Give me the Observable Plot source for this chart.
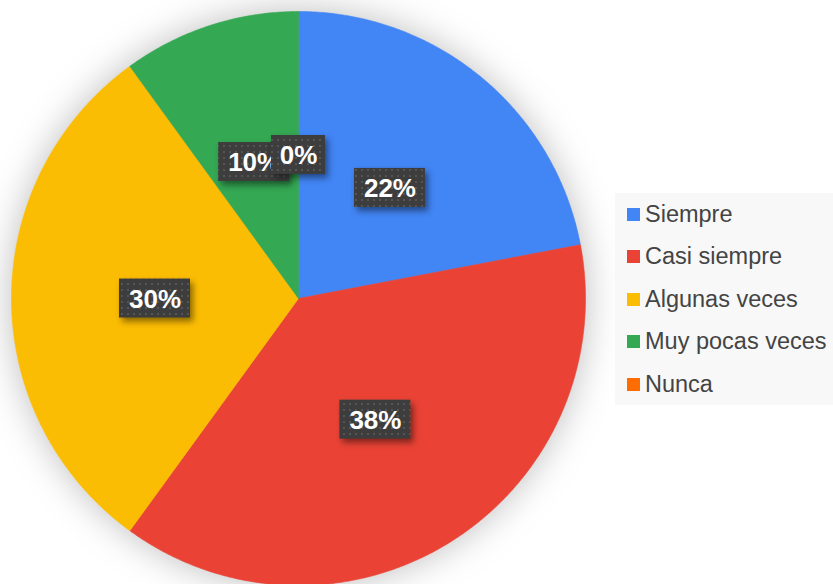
<!DOCTYPE html>
<html>
<head>
<meta charset="utf-8">
<script src="https://cdn.jsdelivr.net/npm/d3@7"></script>
<script src="https://cdn.jsdelivr.net/npm/@observablehq/plot@0.6"></script>
<style>
  body { margin: 0; background: #fff; font-family: "Liberation Sans", Arial, sans-serif; }
  #wrap { position: relative; width: 833px; height: 584px; overflow: hidden; }
  #legend { position: absolute; left: 615px; top: 193px; width: 230px; height: 212px; background: #f8f8f8; box-sizing: border-box; padding-top: 0px; }
  .item { display: flex; align-items: center; height: 42.5px; padding-left: 12px; font-size: 23.5px; color: #444; white-space: nowrap; }
  .sw { width: 13px; height: 13px; margin-right: 5px; flex: none; }
</style>
</head>
<body>
<div id="wrap"></div>
<script>
const categories = ["Siempre", "Casi siempre", "Algunas veces", "Muy pocas veces", "Nunca"];
const values = [22, 38, 30, 10, 0];
const labels = ["22%", "38%", "30%", "10%", "0%"];
const colors = ["#4285F4", "#EA4335", "#FBBC04", "#34A853", "#FF6D01"];

const data = categories.map((c, i) => ({cat: c, value: values[i], label: labels[i]}));
const arcs = d3.pie().sort(null).value(d => d.value).startAngle(0).endAngle(2 * Math.PI)(data);

// polygon points for each non-empty slice (unit circle, angle clockwise from top)
const pts = [];
for (const a of arcs) {
  if (a.data.value <= 0) continue;
  const cat = a.data.cat;
  pts.push({cat, x: 0, y: 0});
  const n = Math.max(2, Math.ceil((a.endAngle - a.startAngle) / (Math.PI / 360)));
  for (let k = 0; k <= n; k++) {
    const t = a.startAngle + (a.endAngle - a.startAngle) * k / n;
    pts.push({cat, x: Math.sin(t), y: Math.cos(t)});
  }
  pts.push({cat, x: 0, y: 0});
}

// label positions at half radius
const R = 287; // pixel radius, for converting box size into data units
const lab = arcs.map(a => {
  const m = (a.startAngle + a.endAngle) / 2;
  const w = (a.data.label.length === 2 ? 54 : 71) / 2 / R;
  const h = 39 / 2 / R;
  const cx = 0.5 * Math.sin(m), cy = 0.5 * Math.cos(m);
  return {label: a.data.label, cx, cy, x1: cx - w, x2: cx + w, y1: cy - h, y2: cy + h};
});

const labelMarks = lab.flatMap(d => [
  Plot.rect([d], {x1: "x1", x2: "x2", y1: "y1", y2: "y2", fill: "url(#chk)", className: "lbox"}),
  Plot.text([d], {x: "cx", y: "cy", text: "label", fill: "white", fontSize: 26, fontWeight: "bold", dy: 1})
]);

const chart = Plot.plot({
  width: 833,
  height: 584,
  margin: 0,
  x: {domain: [-1, 1], range: [11, 585], axis: null},
  y: {domain: [-1, 1], range: [585, 11], axis: null},
  color: {domain: categories, range: colors},
  style: {fontFamily: "'Liberation Sans', Arial, sans-serif", background: "transparent", overflow: "visible"},
  marks: [
    Plot.line(pts, {x: "x", y: "y", z: "cat", fill: "cat", stroke: "cat", strokeWidth: 0.6, curve: "linear", className: "pie"}),
    ...labelMarks
  ]
});

// pattern for label boxes
const defs = document.createElementNS("http://www.w3.org/2000/svg", "defs");
defs.innerHTML = `<pattern id="chk" width="6" height="6" patternUnits="userSpaceOnUse">
  <rect width="6" height="6" fill="#3d3d3d"/>
  <rect x="1" y="1" width="2" height="2" fill="#555"/>
</pattern>`;
chart.insertBefore(defs, chart.firstChild);
chart.querySelectorAll(".pie").forEach(g => g.style.filter = "drop-shadow(0 0 18px rgba(0,0,0,0.26))");
chart.querySelectorAll(".lbox").forEach(g => g.style.filter = "drop-shadow(3px 4px 3px rgba(0,0,0,0.45))");

const wrap = document.getElementById("wrap");
wrap.appendChild(chart);

const legend = document.createElement("div");
legend.id = "legend";
categories.forEach((c, i) => {
  const it = document.createElement("div");
  it.className = "item";
  it.innerHTML = `<span class="sw" style="background:${colors[i]}"></span><span>${c}</span>`;
  legend.appendChild(it);
});
wrap.appendChild(legend);
</script>
</body>
</html>
